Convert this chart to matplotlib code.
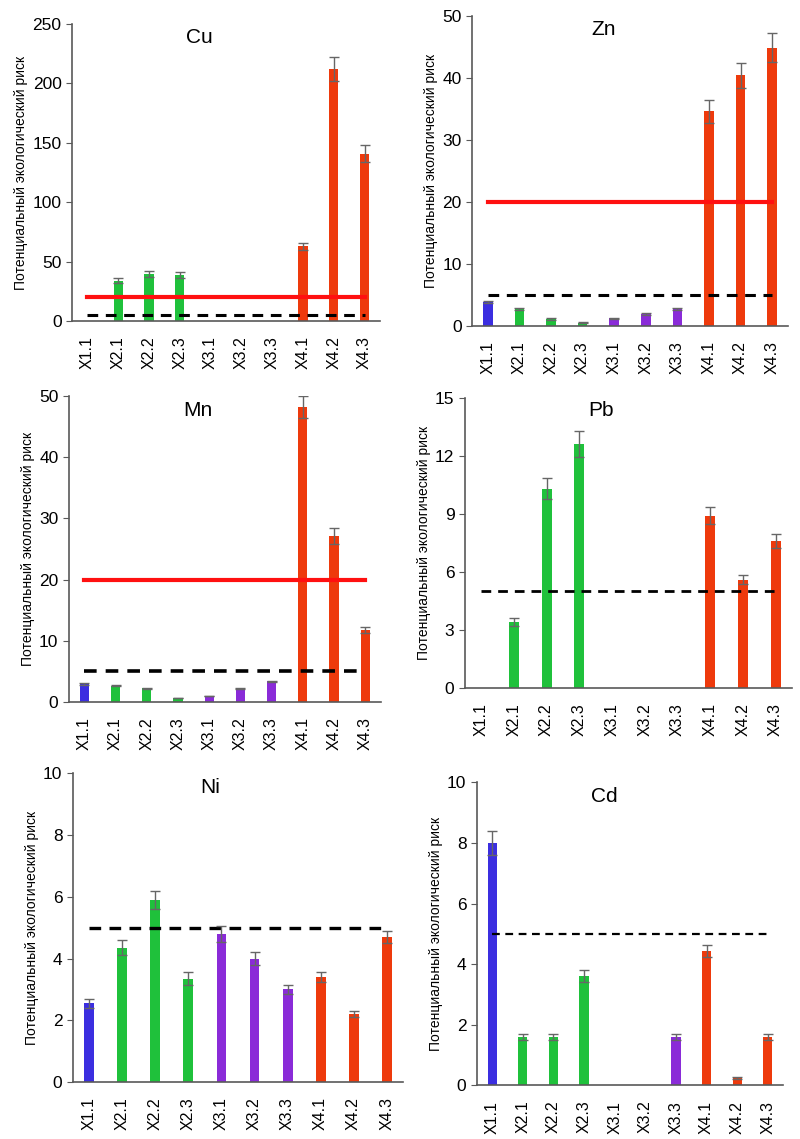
import matplotlib
matplotlib.use("Agg")
import matplotlib.pyplot as plt

plt.rcParams['font.family'] = ['Liberation Sans', 'DejaVu Sans']

labels = ["X1.1", "X2.1", "X2.2", "X2.3", "X3.1", "X3.2", "X3.3", "X4.1", "X4.2", "X4.3"]
groups = [1, 2, 2, 2, 3, 3, 3, 4, 4, 4]
group_colors = {1: "#3b2ee0", 2: "#1fc13b", 3: "#8a2bd8", 4: "#ee3a0c"}

cu = [0, 34, 40, 39, 0, 0, 0, 63, 212, 141]
cu_err = [0, 2, 2.5, 2.5, 0, 0, 0, 3, 10, 7]
zn = [3.8, 2.7, 1.1, 0.5, 1.2, 1.9, 2.7, 34.6, 40.4, 44.9]
zn_err = [0.2, 0.15, 0.1, 0.05, 0.1, 0.1, 0.15, 1.8, 2.0, 2.3]
mn = [2.9, 2.6, 2.2, 0.6, 0.9, 2.1, 3.3, 48.3, 27.2, 11.7]
mn_err = [0.15, 0.1, 0.1, 0.05, 0.05, 0.1, 0.15, 1.8, 1.3, 0.5]
pb = [0, 3.4, 10.3, 12.6, 0, 0, 0, 8.9, 5.6, 7.6]
pb_err = [0, 0.2, 0.55, 0.65, 0, 0, 0, 0.45, 0.25, 0.35]
ni = [2.55, 4.35, 5.9, 3.35, 4.8, 4.0, 3.0, 3.4, 2.2, 4.7]
ni_err = [0.15, 0.25, 0.3, 0.2, 0.25, 0.22, 0.15, 0.15, 0.1, 0.2]
cd = [8.0, 1.6, 1.6, 3.6, 0, 0, 1.6, 4.45, 0.25, 1.6]
cd_err = [0.4, 0.1, 0.1, 0.2, 0, 0, 0.1, 0.2, 0.03, 0.1]

# name, values, errors, ymax, tick step, red level, dashed width, axes rect
panels = [
    ("Cu", cu, cu_err, 250, 50, 20, 2.2, [0.090, 0.718, 0.385, 0.261]),
    ("Zn", zn, zn_err, 50, 10, 20, 2.2, [0.590, 0.714, 0.395, 0.272]),
    ("Mn", mn, mn_err, 50, 10, 20, 2.6, [0.086, 0.384, 0.390, 0.268]),
    ("Pb", pb, pb_err, 15, 3, None, 2.0, [0.581, 0.396, 0.409, 0.255]),
    ("Ni", ni, ni_err, 10, 2, None, 2.4, [0.091, 0.050, 0.413, 0.271]),
    ("Cd", cd, cd_err, 10, 2, None, 1.6, [0.596, 0.047, 0.383, 0.266]),
]

fig = plt.figure(figsize=(8, 11.39), dpi=100)
x = list(range(len(labels)))
colors = [group_colors[g] for g in groups]

for name, vals, errs, ymax, step, red, dash_lw, rect in panels:
    ax = fig.add_axes(rect)
    ax.bar(x, vals, width=0.3, color=colors, zorder=2)
    shown = [i for i in x if vals[i] > 0]
    ax.errorbar([x[i] for i in shown], [vals[i] for i in shown],
                yerr=[errs[i] for i in shown], fmt='none', ecolor='#666666',
                elinewidth=1.0, capsize=3.5, capthick=1.0, zorder=4)
    if red is not None:
        ax.plot([x[0], x[-1]], [red, red], color='#ff1010', lw=3.0, zorder=3)
    ax.plot([x[0], x[-1]], [5, 5], color='black', lw=dash_lw,
            linestyle=(0, (3.5, 2.5)), zorder=3)
    ax.set_xlim(-0.5, 9.5)
    ax.set_ylim(0, ymax)
    ax.set_yticks(range(0, ymax + 1, step))
    ax.set_xticks(x)
    ax.set_xticklabels(labels, rotation=90, fontsize=11.5)
    ax.tick_params(axis='x', length=0, pad=11)
    ax.tick_params(axis='y', labelsize=12.5, length=4, direction='out', color='#595959')
    for s in ['top', 'right']:
        ax.spines[s].set_visible(False)
    for s in ['left', 'bottom']:
        ax.spines[s].set_color('#595959')
        ax.spines[s].set_linewidth(1.2)
    ax.set_ylabel("Потенциальный экологический риск", fontsize=10, labelpad=3)
    ax.text(0.415, 0.955, name, transform=ax.transAxes, ha='center', va='center',
            fontsize=15)

fig.savefig("out.png", dpi=100)
